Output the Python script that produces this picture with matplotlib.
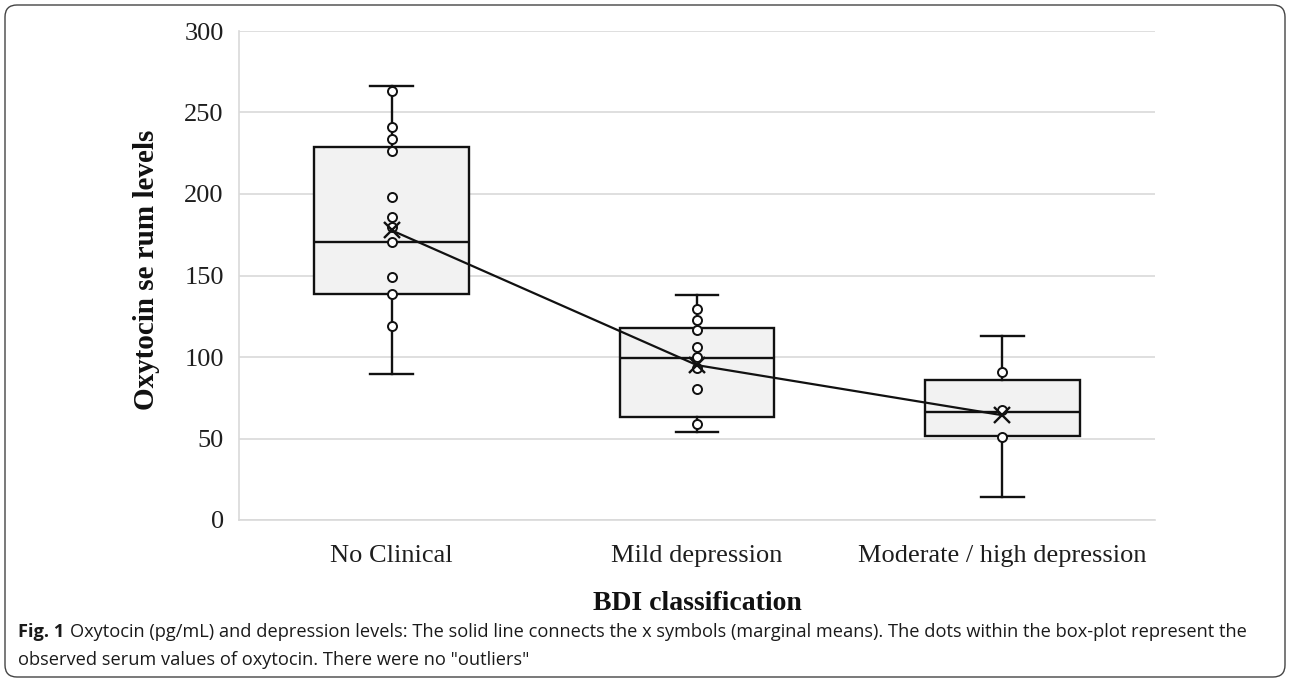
import matplotlib
matplotlib.use("Agg")
import matplotlib.pyplot as plt
from matplotlib.patches import FancyBboxPatch

# ---- data ----
categories = ["No Clinical", "Mild depression", "Moderate / high depression"]
whisker_low = [89.5, 53.7, 14.3]
q1 = [138.9, 63.3, 51.7]
median = [170.5, 99.1, 66.4]
q3 = [228.7, 117.5, 85.8]
whisker_high = [266.0, 137.9, 112.9]
means = [177.7, 95.0, 64.3]
points_no_clinical = [262.9, 241.4, 233.5, 226.1, 198.1, 185.8, 179.7, 170.5, 149.1, 138.5, 118.9]
points_mild = [129.7, 123.0, 116.4, 106.2, 99.7, 93.0, 80.1, 58.8]
points_moderate = [90.9, 67.4, 51.0]
observed = [points_no_clinical, points_mild, points_moderate]
y_ticks = [0, 50, 100, 150, 200, 250, 300]

W, H = 1290, 682
fig = plt.figure(figsize=(W / 100, H / 100), dpi=100)
fig.patch.set_facecolor("white")

ax = fig.add_axes([239 / W, 1 - 520 / H, (1155 - 239) / W, (520 - 31) / H])
positions = list(range(1, len(categories) + 1))

stats = []
for i in range(len(categories)):
    stats.append(dict(med=median[i], q1=q1[i], q3=q3[i],
                      whislo=whisker_low[i], whishi=whisker_high[i],
                      fliers=[], label=categories[i]))

ax.bxp(stats, positions=positions, widths=0.506, patch_artist=True,
       showfliers=False, showcaps=True,
       boxprops=dict(facecolor="#f2f2f2", edgecolor="#111111", linewidth=1.7),
       medianprops=dict(color="#111111", linewidth=1.7),
       whiskerprops=dict(color="#111111", linewidth=1.7),
       capprops=dict(color="#111111", linewidth=1.7),
       capwidths=0.14, zorder=2)

for pos, vals in zip(positions, observed):
    ax.plot([pos] * len(vals), vals, linestyle="none", marker="o",
            markersize=6.5, markerfacecolor="white", markeredgecolor="#111111",
            markeredgewidth=1.4, zorder=4)

ax.plot(positions, means, color="#111111", linewidth=1.6, zorder=5)
ax.plot(positions, means, linestyle="none", marker="x", markersize=12,
        markeredgewidth=1.7, color="#111111", zorder=6)

ax.set_xlim(0.5, len(categories) + 0.5)
ax.set_ylim(0, 300)
ax.set_yticks(y_ticks)
ax.set_xticks(positions)
ax.set_xticklabels(categories)
ax.yaxis.grid(True, color="#d9d9d9", linewidth=1.2, zorder=0)
ax.set_axisbelow(True)
for s in ["top", "right"]:
    ax.spines[s].set_visible(False)
ax.spines["left"].set_color("#d9d9d9")
ax.spines["bottom"].set_color("#d9d9d9")
ax.spines["left"].set_linewidth(1.2)
ax.spines["bottom"].set_linewidth(1.2)
ax.tick_params(axis="both", length=0, labelsize=19, colors="#1e1e1e")
ax.tick_params(axis="y", pad=11)
ax.tick_params(axis="x", pad=18)
for lab in ax.get_xticklabels() + ax.get_yticklabels():
    lab.set_fontfamily("Liberation Serif")

fig.text(146 / W, 1 - 270 / H, "Oxytocin se rum levels", rotation=90,
         ha="center", va="center", fontsize=21, fontweight="bold",
         family="Liberation Serif", color="#111111")
fig.text(697 / W, 1 - 603 / H, "BDI classification", ha="center", va="center",
         fontsize=20, fontweight="bold", family="Liberation Serif", color="#111111")

# caption
cap_family = ["Liberation Sans Narrow", "Open Sans"]
fig.canvas.draw()
r = fig.canvas.get_renderer()
t_fig = fig.text(18 / W, 1 - 632 / H, "Fig. 1", ha="left", va="center",
                 fontsize=14, fontweight="bold", family=cap_family, color="#1a1a1a")
line1 = ("Oxytocin (pg/mL) and depression levels: The solid line connects the x symbols "
         "(marginal means). The dots within the box-plot represent the")
t1 = fig.text(70 / W, 1 - 632 / H, line1, ha="left", va="center", fontsize=14,
              family=cap_family, color="#1a1a1a")
bb = t1.get_window_extent(renderer=r)
target = 1255 - 70
fs = 14 * target / bb.width
t1.set_fontsize(fs)
t_fig.set_fontsize(fs)
t2 = fig.text(18 / W, 1 - 660 / H,
              'observed serum values of oxytocin. There were no "outliers"',
              ha="left", va="center", fontsize=fs, family=cap_family, color="#1a1a1a")

frame = FancyBboxPatch((5, 5), W - 10, H - 10, boxstyle="round,pad=0,rounding_size=12",
                       transform=None, facecolor="none", edgecolor="#444444",
                       linewidth=1.0)
fig.patches.append(frame)

fig.savefig("out.png", dpi=100, facecolor="white")
